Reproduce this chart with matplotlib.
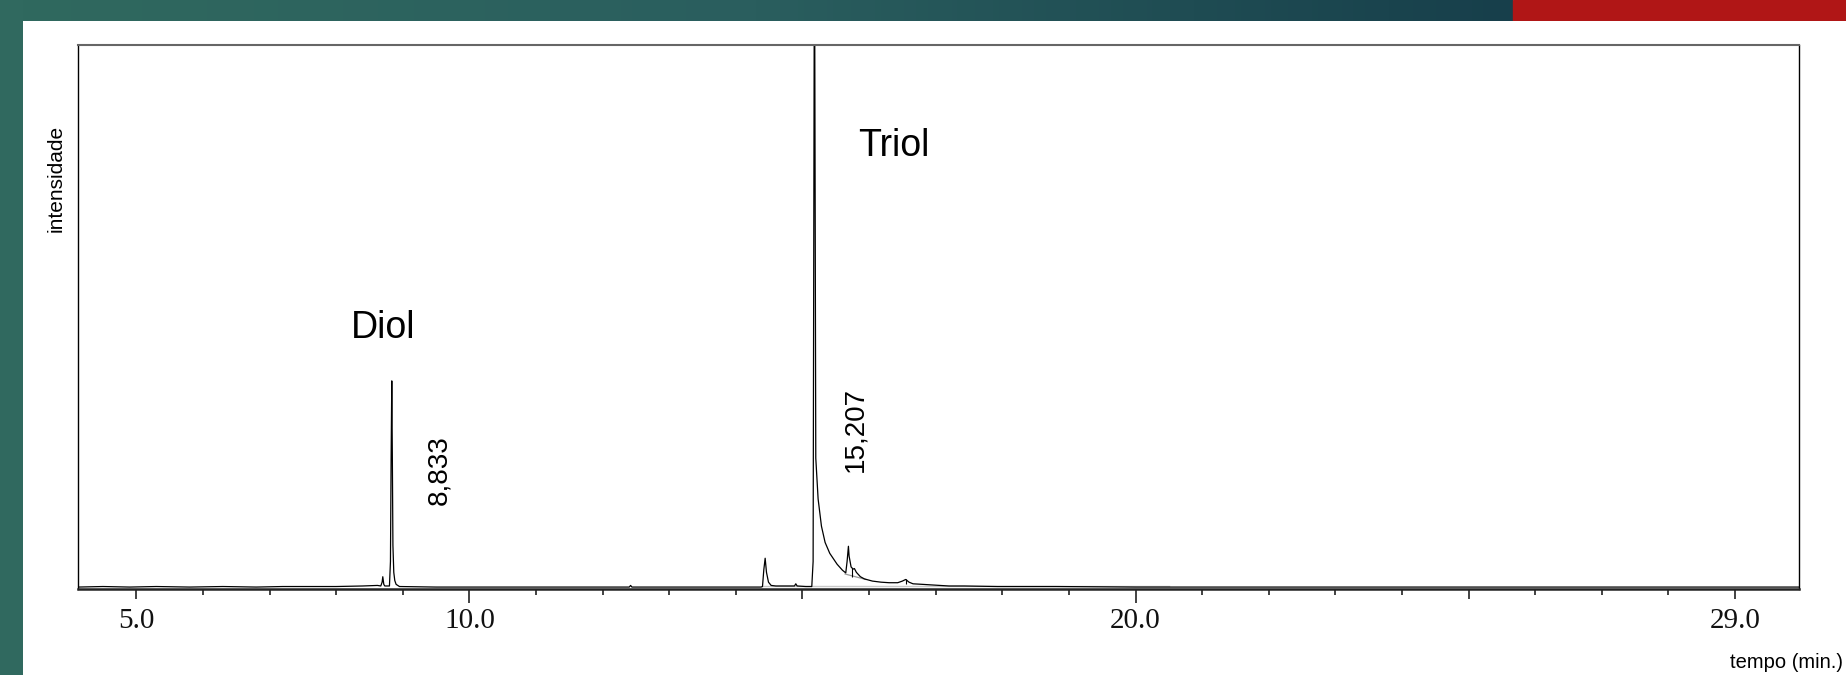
# Cromatograma - Diol / Triol
import numpy as np
import matplotlib.pyplot as plt
from matplotlib.colors import LinearSegmentedColormap
from matplotlib.patches import Rectangle

tempo = [4.12, 4.5, 4.9, 5.3, 5.8, 6.3, 6.8, 7.2, 7.6, 8.0, 8.4, 8.62, 8.67,
         8.69, 8.70, 8.715, 8.73, 8.80, 8.815, 8.825, 8.835, 8.843, 8.852,
         8.865, 8.88, 8.90, 8.95, 9.5, 10.5, 11.5, 12.40, 12.42, 12.44, 13.5,
         14.38, 14.40, 14.42, 14.44, 14.46, 14.49, 14.53, 14.6, 14.8, 14.88,
         14.90, 14.92, 15.05, 15.14, 15.16, 15.18, 15.20, 15.235, 15.285,
         15.34, 15.41, 15.52, 15.60, 15.65, 15.67, 15.69, 15.70, 15.73, 15.76,
         15.78, 15.81, 15.87, 15.93, 16.05, 16.18, 16.30, 16.43, 16.50, 16.55,
         16.60, 16.66, 16.8, 16.93, 17.2, 17.43, 17.93, 18.8, 20.0, 22.0,
         25.0, 29.96]
intensidade = [0.003, 0.004, 0.003, 0.004, 0.003, 0.004, 0.003, 0.004, 0.004,
               0.004, 0.005, 0.006, 0.005, 0.012, 0.022, 0.008, 0.005, 0.005,
               0.05, 0.24, 0.382, 0.25, 0.08, 0.03, 0.015, 0.008, 0.004,
               0.003, 0.003, 0.003, 0.003, 0.006, 0.003, 0.003, 0.003, 0.004,
               0.035, 0.056, 0.03, 0.012, 0.006, 0.005, 0.005, 0.005, 0.009,
               0.005, 0.004, 0.004, 0.05, 1.25, 0.24, 0.165, 0.115, 0.085,
               0.065, 0.045, 0.034, 0.029, 0.05, 0.078, 0.06, 0.04, 0.036,
               0.037, 0.03, 0.022, 0.018, 0.014, 0.012, 0.011, 0.011, 0.014,
               0.017, 0.012, 0.009, 0.008, 0.007, 0.005, 0.005, 0.004, 0.004,
               0.003, 0.003, 0.003, 0.003]

# linhas de base da integracao (cinza)
base_t = [15.64, 15.95]
base_y = [0.027, 0.017]
base2_t = [14.40, 20.5]
base2_y = [0.005, 0.005]

# marcacoes de eixo
ticks_x = [5, 10, 15, 20, 25, 29]
ticks_lbl = ['5.0', '10.0', '', '20.0', '', '29.0']
tick_len = [7, 10, 7, 10, 7, 7]

fonte = 'Liberation Sans'

fig = plt.figure(figsize=(18.46, 6.75), dpi=100)
fig.patch.set_facecolor('white')

# faixa superior em degrade + bloco vermelho + faixa lateral
bar = fig.add_axes([0, 1 - 21 / 675, 1, 21 / 675])
cmap = LinearSegmentedColormap.from_list('faixa', ['#30695f', '#2a5e5e', '#173f4b'])
bar.imshow(np.linspace(0, 1, 256)[None, :], cmap=cmap, aspect='auto',
           extent=[0, 1513, 0, 1])
bar.add_patch(Rectangle((1513, 0), 333, 1, color='#b01616'))
bar.set_xlim(0, 1846)
bar.set_ylim(0, 1)
bar.axis('off')

side = fig.add_axes([0, 0, 23 / 1846, 1])
side.add_patch(Rectangle((0, 0), 1, 1, color='#30695f'))
side.set_xlim(0, 1)
side.set_ylim(0, 1)
side.axis('off')

ax = fig.add_axes([77.7 / 1846, 86.3 / 675, 1721.3 / 1846, 544 / 675])
ax.plot(base2_t, base2_y, color='#c8c8c8', lw=1.0)
ax.plot(base_t, base_y, color='#9a9a9a', lw=0.9)
ax.plot(tempo, intensidade, color='black', lw=0.9)
ax.vlines([15.74, 16.55], [0.021, 0.009], [0.038, 0.017], color='black', lw=0.8)

ax.set_xlim(4.12, 29.96)
ax.set_ylim(0, 1)
ax.set_yticks([])
ax.set_xticks(ticks_x)
ax.set_xticklabels(ticks_lbl, fontsize=21, family='Liberation Serif', color='#111111')
ax.set_xticks(np.arange(5, 30, 1), minor=True)
ax.tick_params(axis='x', which='major', direction='out', length=7, width=1.2,
               pad=7, color='#222222')
ax.tick_params(axis='x', which='minor', direction='out', length=4.5, width=1.2,
               color='#222222')
for tk, ln in zip(ax.xaxis.get_major_ticks(), tick_len):
    tk.tick1line.set_markersize(ln)

ax.spines['bottom'].set_linewidth(1.8)
ax.spines['bottom'].set_color('#222222')
ax.spines['top'].set_linewidth(1.5)
ax.spines['top'].set_color('#666666')
ax.spines['left'].set_linewidth(1.0)
ax.spines['right'].set_linewidth(1.0)

ax.text(8.70, 0.479, 'Diol', fontsize=27, family=fonte,
        ha='center', va='center')
ax.text(16.37, 0.814, 'Triol', fontsize=27, family=fonte,
        ha='center', va='center')
ax.text(9.555, 0.218, '8,833', fontsize=20, family=fonte, rotation=90,
        ha='center', va='center')
ax.text(15.80, 0.292, '15,207', fontsize=20, family=fonte, rotation=90,
        ha='center', va='center')

fig.text(0.0306, 0.735, 'intensidade', fontsize=15, family=fonte,
         rotation=90, ha='center', va='center')
fig.text(1843 / 1846, 12 / 675, 'tempo (min.)', fontsize=14.5, family=fonte,
         ha='right', va='center')

plt.savefig('out.png', dpi=100)
